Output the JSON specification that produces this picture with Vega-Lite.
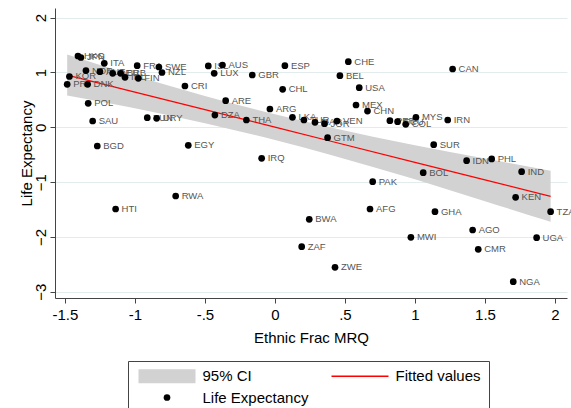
{
  "$schema": "https://vega.github.io/schema/vega-lite/v6.json",
  "width": 512,
  "height": 290,
  "autosize": {"type": "none"},
  "padding": {"left": 55, "top": 8, "right": 4, "bottom": 110},
  "background": "white",
  "config": {
    "font": "Liberation Sans",
    "view": {"stroke": null},
    "axis": {
      "domainColor": "#444444",
      "tickColor": "#444444",
      "tickSize": 5,
      "labelColor": "#000000",
      "titleColor": "#000000",
      "labelFontSize": 15,
      "titleFontSize": 15,
      "titleFontWeight": "normal",
      "labelFont": "Liberation Sans",
      "titleFont": "Liberation Sans"
    }
  },
  "datasets": {
    "pts": [
      {"c": "HKG", "x": -1.407, "y": 1.301, "s": "Life Expectancy"},
      {"c": "JPN", "x": -1.386, "y": 1.274, "s": "Life Expectancy"},
      {"c": "ITA", "x": -1.219, "y": 1.168, "s": "Life Expectancy"},
      {"c": "NOR", "x": -1.35, "y": 1.036, "s": "Life Expectancy"},
      {"c": "KOR", "x": -1.468, "y": 0.927, "s": "Life Expectancy"},
      {"c": "PRT", "x": -1.484, "y": 0.785, "s": "Life Expectancy"},
      {"c": "DNK", "x": -1.338, "y": 0.785, "s": "Life Expectancy"},
      {"c": "AUT", "x": -1.25, "y": 1.015, "s": "Life Expectancy"},
      {"c": "DEU", "x": -1.159, "y": 0.985, "s": "Life Expectancy"},
      {"c": "BRB", "x": -1.102, "y": 0.985, "s": "Life Expectancy"},
      {"c": "IRL", "x": -1.071, "y": 0.912, "s": "Life Expectancy"},
      {"c": "FRA", "x": -0.984, "y": 1.124, "s": "Life Expectancy"},
      {"c": "FIN", "x": -0.976, "y": 0.894, "s": "Life Expectancy"},
      {"c": "SWE", "x": -0.829, "y": 1.1, "s": "Life Expectancy"},
      {"c": "NZL", "x": -0.807, "y": 1.0, "s": "Life Expectancy"},
      {"c": "CRI", "x": -0.643, "y": 0.754, "s": "Life Expectancy"},
      {"c": "POL", "x": -1.334, "y": 0.438, "s": "Life Expectancy"},
      {"c": "SAU", "x": -1.302, "y": 0.115, "s": "Life Expectancy"},
      {"c": "TUN", "x": -0.912, "y": 0.175, "s": "Life Expectancy"},
      {"c": "URY", "x": -0.845, "y": 0.164, "s": "Life Expectancy"},
      {"c": "BGD", "x": -1.269, "y": -0.341, "s": "Life Expectancy"},
      {"c": "EGY", "x": -0.619, "y": -0.328, "s": "Life Expectancy"},
      {"c": "ARE", "x": -0.352, "y": 0.485, "s": "Life Expectancy"},
      {"c": "DZA", "x": -0.429, "y": 0.224, "s": "Life Expectancy"},
      {"c": "THA", "x": -0.204, "y": 0.133, "s": "Life Expectancy"},
      {"c": "ISL", "x": -0.476, "y": 1.119, "s": "Life Expectancy"},
      {"c": "AUS", "x": -0.375, "y": 1.137, "s": "Life Expectancy"},
      {"c": "LUX", "x": -0.434, "y": 0.985, "s": "Life Expectancy"},
      {"c": "GBR", "x": -0.162, "y": 0.954, "s": "Life Expectancy"},
      {"c": "ESP", "x": 0.071, "y": 1.124, "s": "Life Expectancy"},
      {"c": "CHE", "x": 0.524, "y": 1.197, "s": "Life Expectancy"},
      {"c": "BEL", "x": 0.464, "y": 0.942, "s": "Life Expectancy"},
      {"c": "CHL", "x": 0.055, "y": 0.693, "s": "Life Expectancy"},
      {"c": "USA", "x": 0.602, "y": 0.723, "s": "Life Expectancy"},
      {"c": "ARG", "x": -0.036, "y": 0.334, "s": "Life Expectancy"},
      {"c": "MEX", "x": 0.579, "y": 0.407, "s": "Life Expectancy"},
      {"c": "CHN", "x": 0.661, "y": 0.297, "s": "Life Expectancy"},
      {"c": "LKA", "x": 0.125, "y": 0.182, "s": "Life Expectancy"},
      {"c": "TUR", "x": 0.207, "y": 0.133, "s": "Life Expectancy"},
      {"c": "MAR", "x": 0.286, "y": 0.091, "s": "Life Expectancy"},
      {"c": "JOR", "x": 0.354, "y": 0.066, "s": "Life Expectancy"},
      {"c": "VEN", "x": 0.443, "y": 0.115, "s": "Life Expectancy"},
      {"c": "GTM", "x": 0.376, "y": -0.19, "s": "Life Expectancy"},
      {"c": "PER", "x": 0.821, "y": 0.12, "s": "Life Expectancy"},
      {"c": "ECU", "x": 0.876, "y": 0.102, "s": "Life Expectancy"},
      {"c": "COL", "x": 0.934, "y": 0.055, "s": "Life Expectancy"},
      {"c": "MYS", "x": 1.007, "y": 0.182, "s": "Life Expectancy"},
      {"c": "IRN", "x": 1.234, "y": 0.133, "s": "Life Expectancy"},
      {"c": "CAN", "x": 1.269, "y": 1.064, "s": "Life Expectancy"},
      {"c": "SUR", "x": 1.134, "y": -0.318, "s": "Life Expectancy"},
      {"c": "BOL", "x": 1.059, "y": -0.828, "s": "Life Expectancy"},
      {"c": "IDN", "x": 1.369, "y": -0.609, "s": "Life Expectancy"},
      {"c": "PHL", "x": 1.548, "y": -0.578, "s": "Life Expectancy"},
      {"c": "IND", "x": 1.762, "y": -0.81, "s": "Life Expectancy"},
      {"c": "KEN", "x": 1.719, "y": -1.277, "s": "Life Expectancy"},
      {"c": "TZA", "x": 1.969, "y": -1.54, "s": "Life Expectancy"},
      {"c": "GHA", "x": 1.143, "y": -1.54, "s": "Life Expectancy"},
      {"c": "AGO", "x": 1.412, "y": -1.874, "s": "Life Expectancy"},
      {"c": "MWI", "x": 0.971, "y": -2.007, "s": "Life Expectancy"},
      {"c": "UGA", "x": 1.869, "y": -2.015, "s": "Life Expectancy"},
      {"c": "CMR", "x": 1.452, "y": -2.226, "s": "Life Expectancy"},
      {"c": "NGA", "x": 1.702, "y": -2.818, "s": "Life Expectancy"},
      {"c": "PAK", "x": 0.698, "y": -0.993, "s": "Life Expectancy"},
      {"c": "AFG", "x": 0.679, "y": -1.491, "s": "Life Expectancy"},
      {"c": "IRQ", "x": -0.095, "y": -0.566, "s": "Life Expectancy"},
      {"c": "RWA", "x": -0.709, "y": -1.254, "s": "Life Expectancy"},
      {"c": "HTI", "x": -1.138, "y": -1.491, "s": "Life Expectancy"},
      {"c": "BWA", "x": 0.245, "y": -1.679, "s": "Life Expectancy"},
      {"c": "ZAF", "x": 0.191, "y": -2.179, "s": "Life Expectancy"},
      {"c": "ZWE", "x": 0.429, "y": -2.555, "s": "Life Expectancy"}
    ],
    "fit": [
      {"x": -1.484, "fit": 0.953, "lo": 0.579, "hi": 1.327},
      {"x": -1.036, "fit": 0.666, "lo": 0.366, "hi": 0.966},
      {"x": -0.5, "fit": 0.323, "lo": 0.073, "hi": 0.573},
      {"x": 0.0, "fit": 0.002, "lo": -0.233, "hi": 0.237},
      {"x": 0.4, "fit": -0.254, "lo": -0.504, "hi": -0.004},
      {"x": 1.0, "fit": -0.639, "lo": -0.949, "hi": -0.329},
      {"x": 1.5, "fit": -0.96, "lo": -1.35, "hi": -0.57},
      {"x": 1.969, "fit": -1.26, "lo": -1.725, "hi": -0.795}
    ]
  },
  "layer": [
    {
      "data": {"name": "fit"},
      "mark": {"type": "area", "color": "#d2d2d2", "interpolate": "monotone"},
      "encoding": {
        "x": {"field": "x", "type": "quantitative"},
        "y": {"field": "lo", "type": "quantitative"},
        "y2": {"field": "hi"}
      }
    },
    {
      "data": {"name": "fit"},
      "mark": {"type": "line", "color": "#ff0000", "strokeWidth": 1.2},
      "encoding": {
        "x": {"field": "x", "type": "quantitative"},
        "y": {"field": "fit", "type": "quantitative"}
      }
    },
    {
      "data": {"name": "pts"},
      "mark": {"type": "text", "align": "left", "baseline": "middle", "dx": 6, "fontSize": 9.5, "color": "#555555", "font": "Liberation Sans"},
      "encoding": {
        "x": {"field": "x", "type": "quantitative"},
        "y": {"field": "y", "type": "quantitative"},
        "text": {"field": "c"}
      }
    },
    {
      "data": {"name": "pts"},
      "mark": {"type": "point", "filled": true, "opacity": 1, "size": 45},
      "encoding": {
        "x": {
          "field": "x", "type": "quantitative",
          "scale": {"domain": [-1.571, 2.086], "nice": false, "zero": false},
          "axis": {
            "title": "Ethnic Frac MRQ",
            "values": [-1.5, -1, -0.5, 0, 0.5, 1, 1.5, 2],
            "labelExpr": "replace(toString(datum.value), '0.', '.')",
            "grid": false,
            "labelPadding": 4,
            "titlePadding": 8,
            "labelFlush": false
          }
        },
        "y": {
          "field": "y", "type": "quantitative",
          "scale": {"domain": [-3.115, 2.177], "nice": false, "zero": false},
          "axis": {
            "title": "Life Expectancy",
            "values": [-3, -2, -1, 0, 1, 2],
            "format": "d",
            "grid": true,
            "gridColor": "#e3ecec",
            "gridWidth": 1,
            "labelAngle": 270,
            "labelAlign": "center",
            "labelBaseline": "bottom",
            "labelPadding": 2,
            "titlePadding": -1,
            "labelFlush": false
          }
        },
        "color": {
          "field": "s", "type": "nominal",
          "scale": {"domain": ["95% CI", "Fitted values", "Life Expectancy"], "range": ["#d2d2d2", "#ff0000", "#000000"]},
          "legend": {
            "title": null,
            "orient": "none",
            "legendX": 73,
            "legendY": 353,
            "direction": "horizontal",
            "columns": 2,
            "strokeColor": "#444444",
            "fillColor": "white",
            "padding": 7.5,
            "symbolSize": 45,
            "symbolOffset": 24,
            "labelOffset": 28,
            "columnPadding": 20,
            "rowPadding": 5.5,
            "labelFontSize": 15,
            "labelColor": "#000000",
            "labelFont": "Liberation Sans",
            "labelLimit": 300,
            "symbolStrokeWidth": 0
          }
        },
        "shape": {
          "field": "s", "type": "nominal",
          "scale": {"domain": ["95% CI", "Fitted values", "Life Expectancy"], "range": ["M-8.5,-2.1H8.5V2.1H-8.5Z", "M-8.5,-0.2H8.5V0.2H-8.5Z", "circle"]},
          "legend": {
            "title": null,
            "orient": "none",
            "legendX": 73,
            "legendY": 353,
            "direction": "horizontal",
            "columns": 2,
            "strokeColor": "#444444",
            "fillColor": "white",
            "padding": 7.5,
            "symbolSize": 45,
            "symbolOffset": 24,
            "labelOffset": 28,
            "columnPadding": 20,
            "rowPadding": 5.5,
            "labelFontSize": 15,
            "labelColor": "#000000",
            "labelFont": "Liberation Sans",
            "labelLimit": 300,
            "symbolStrokeWidth": 0
          }
        }
      }
    }
  ]
}
